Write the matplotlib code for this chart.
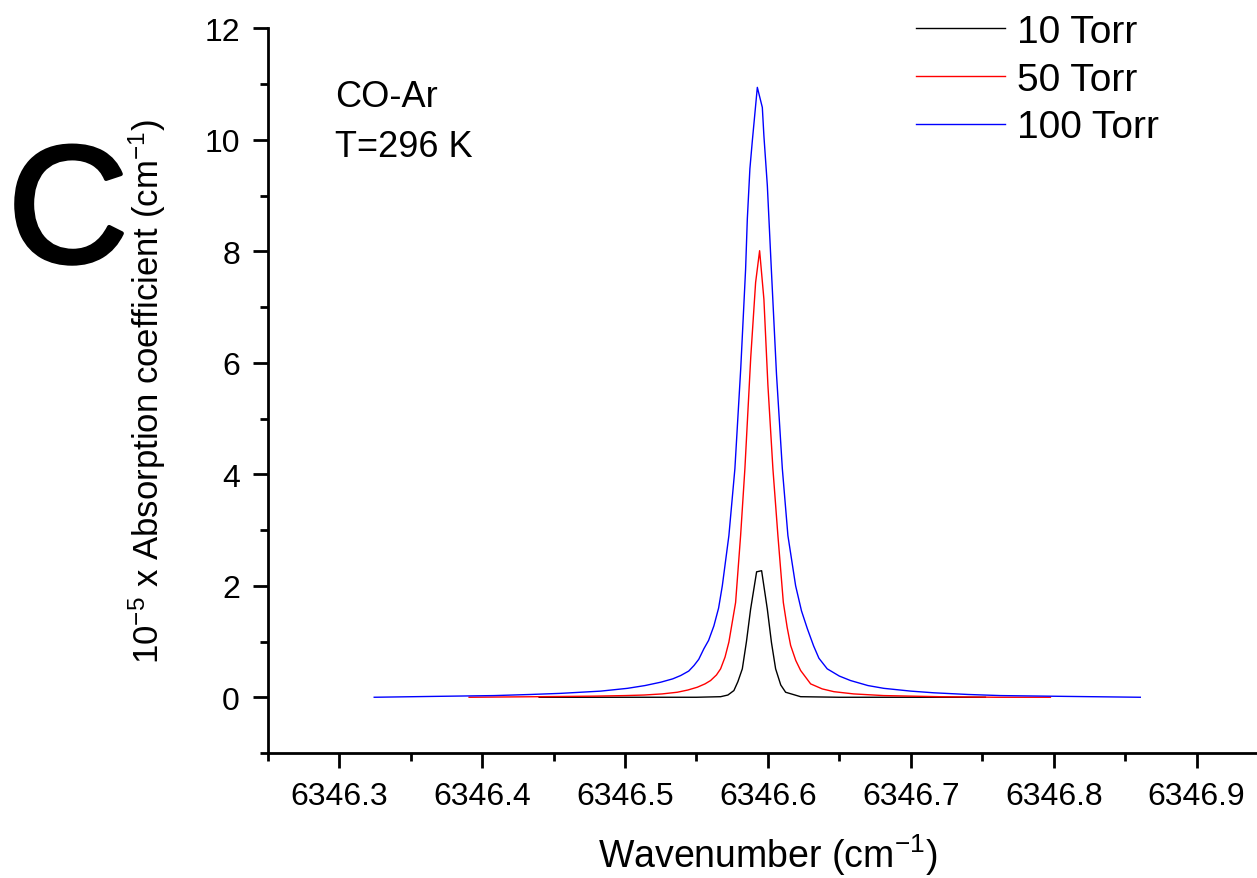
import matplotlib.pyplot as plt
import matplotlib.patheffects as pe
from matplotlib.ticker import MultipleLocator, FormatStrFormatter

plt.rcParams['font.family'] = ['Liberation Sans', 'DejaVu Sans']
plt.rcParams['mathtext.fontset'] = 'custom'
plt.rcParams['mathtext.rm'] = 'Liberation Sans'
plt.rcParams['mathtext.it'] = 'Liberation Sans:italic'

# Datos (numero de onda en cm-1, coef. x 1e-5)
x_10 = [6346.4399, 6346.5000, 6346.5500, 6346.5669, 6346.5720, 6346.5762,
        6346.5790, 6346.5821, 6346.5850, 6346.5879, 6346.5921, 6346.5956,
        6346.5996, 6346.6025, 6346.6054, 6346.6090, 6346.6124, 6346.6229,
        6346.6500, 6346.7000, 6346.7522]
y_10 = [0.00, 0.00, 0.00, 0.01, 0.04, 0.12,
        0.28, 0.51, 1.00, 1.58, 2.25, 2.27,
        1.58, 0.98, 0.51, 0.22, 0.09, 0.01,
        0.00, 0.00, 0.00]

x_50 = [6346.3909, 6346.4400, 6346.4783, 6346.5000, 6346.5133, 6346.5260,
        6346.5366, 6346.5440, 6346.5506, 6346.5560, 6346.5599, 6346.5640,
        6346.5669, 6346.5700, 6346.5727, 6346.5774, 6346.5809, 6346.5839,
        6346.5880, 6346.5914, 6346.5942, 6346.5972, 6346.6000, 6346.6035,
        6346.6070, 6346.6108, 6346.6135, 6346.6159, 6346.6195, 6346.6229,
        6346.6299, 6346.6380, 6346.6462, 6346.6600, 6346.6811, 6346.7200,
        6346.7600, 6346.7977]
y_50 = [0.00, 0.01, 0.02, 0.03, 0.04, 0.06,
        0.09, 0.13, 0.18, 0.24, 0.30, 0.40,
        0.51, 0.72, 0.99, 1.70, 2.90, 4.10,
        6.10, 7.44, 8.01, 7.14, 5.60, 4.10,
        2.90, 1.70, 1.25, 0.93, 0.66, 0.48,
        0.24, 0.15, 0.10, 0.06, 0.03, 0.01,
        0.00, 0.00]

x_100 = [6346.3245, 6346.3650, 6346.4084, 6346.4340, 6346.4550, 6346.4830,
         6346.5017, 6346.5140, 6346.5250, 6346.5334, 6346.5390, 6346.5446,
         6346.5483, 6346.5516, 6346.5552, 6346.5585, 6346.5622, 6346.5655,
         6346.5681, 6346.5727, 6346.5769, 6346.5810, 6346.5844, 6346.5856,
         6346.5874, 6346.5891, 6346.5926, 6346.5961, 6346.5972, 6346.5996,
         6346.6024, 6346.6060, 6346.6101, 6346.6140, 6346.6194, 6346.6235,
         6346.6276, 6346.6320, 6346.6357, 6346.6415, 6346.6500, 6346.6578,
         6346.6700, 6346.6811, 6346.7000, 6346.7161, 6346.7400, 6346.7627,
         6346.8100, 6346.8606]
y_100 = [0.00, 0.015, 0.03, 0.05, 0.07, 0.11,
         0.16, 0.21, 0.27, 0.33, 0.39, 0.47,
         0.57, 0.68, 0.87, 1.02, 1.28, 1.60,
         2.00, 2.90, 4.10, 5.90, 7.68, 8.58,
         9.48, 9.98, 10.94, 10.58, 10.07, 9.18,
         7.68, 5.80, 4.10, 2.90, 2.00, 1.55,
         1.23, 0.92, 0.70, 0.51, 0.38, 0.30,
         0.21, 0.16, 0.11, 0.08, 0.05, 0.03,
         0.015, 0.00]

fig = plt.figure(figsize=(12.57, 8.79), dpi=100)
ax = fig.add_axes([0.213, 0.1422, 0.7958, 0.8245])

ax.plot(x_10, y_10, color="black", linewidth=1.0, label="10 Torr")
ax.plot(x_50, y_50, color="red", linewidth=1.0, label="50 Torr")
ax.plot(x_100, y_100, color="blue", linewidth=1.0, label="100 Torr")

ax.set_xlim(6346.25, 6346.95)
ax.set_ylim(-1, 12)
ax.xaxis.set_major_locator(MultipleLocator(0.1))
ax.xaxis.set_minor_locator(MultipleLocator(0.05))
ax.xaxis.set_major_formatter(FormatStrFormatter('%.1f'))
ax.yaxis.set_major_locator(MultipleLocator(2))
ax.yaxis.set_minor_locator(MultipleLocator(1))

for s in ['top', 'right']:
    ax.spines[s].set_visible(False)
for s in ['left', 'bottom']:
    ax.spines[s].set_linewidth(2)

ax.tick_params(which='major', length=11, width=2, labelsize=23, pad=9)
ax.tick_params(which='minor', length=6, width=2)

ax.set_xlabel("Wavenumber (cm$^{-1}$)", fontsize=27, labelpad=15)
ax.set_ylabel("10$^{-5}$ x Absorption coefficient (cm$^{-1}$)", fontsize=25, labelpad=26)

fig.text(335 / 1257, 1 - 80 / 879, "CO-Ar\nT=296 K", fontsize=26,
         va='top', ha='left', linespacing=1.55)

ax.legend(loc='upper left', bbox_to_anchor=(916 / 1257, 1 - 15 / 879),
          bbox_transform=fig.transFigure, frameon=False, borderpad=0,
          borderaxespad=0, fontsize=28, handlelength=2.3, handletextpad=0.3,
          labelspacing=0.3)

fig.text(68 / 1257, 1 - 220 / 879, "C", fontsize=120, ha='center', va='center',
         path_effects=[pe.withStroke(linewidth=3, foreground='black')])

fig.savefig("out.png", dpi=100)
